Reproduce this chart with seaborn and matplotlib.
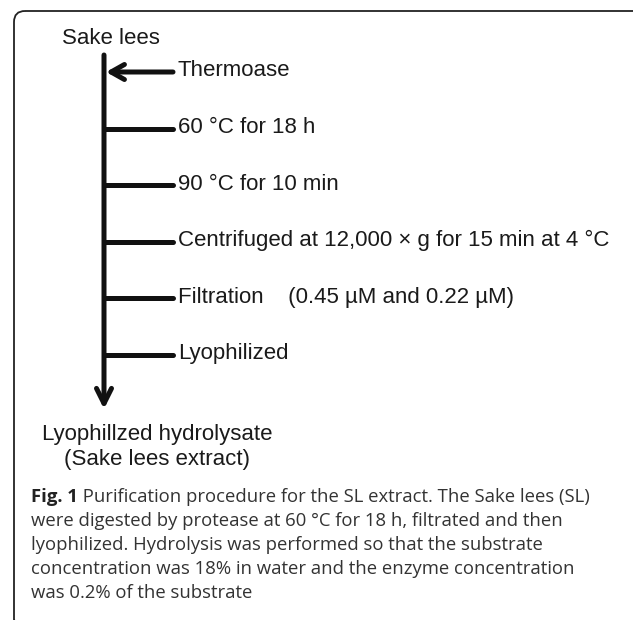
import numpy as np
import pandas as pd
import seaborn as sns
import matplotlib.pyplot as plt
from matplotlib.patches import FancyBboxPatch

# flowchart content
start_label = "Sake lees"
step_labels = ["Thermoase",
               "60 \u00b0C for 18 h",
               "90 \u00b0C for 10 min",
               "Centrifuged at 12,000 \u00d7 g for 15 min at 4 \u00b0C",
               "Filtration    (0.45 \u00b5M and 0.22 \u00b5M)",
               "Lyophilized"]
end_label = "Lyophillzed hydrolysate\n(Sake lees extract)"
caption_bold = "Fig. 1"
caption_lines = [" Purification procedure for the SL extract. The Sake lees (SL)",
                 "were digested by protease at 60 \u00b0C for 18 h, filtrated and then",
                 "lyophilized. Hydrolysis was performed so that the substrate",
                 "concentration was 18% in water and the enzyme concentration",
                 "was 0.2% of the substrate"]

sns.set_theme(style="white")
plt.rcParams['font.family'] = ['Liberation Sans', 'DejaVu Sans']

fig = plt.figure(figsize=(6.33, 6.2), dpi=100)
ax = fig.add_axes([0, 0, 1, 1])

# rounded frame, mostly running off the right and bottom edges
frame = FancyBboxPatch((14, 11), 640, 620, boxstyle="round,pad=0,rounding_size=11",
                       fill=False, lw=1.3, ec='#222222')
ax.add_patch(frame)

trunk_x = 104
branch_end = 173
y0, dy = 72, 56.6
step_y = y0 + dy * np.arange(len(step_labels))

# branches (first one is the arrow, drawn separately)
rows = []
for i, y in enumerate(step_y[1:], start=1):
    rows.append({'step': i, 'x': trunk_x, 'y': y})
    rows.append({'step': i, 'x': branch_end, 'y': y})
branches = pd.DataFrame(rows)
sns.lineplot(data=branches, x='x', y='y', units='step', estimator=None,
             color='#111111', lw=3.6, ax=ax, legend=False)
ax.set_xlim(0, 633)
ax.set_ylim(620, 0)
ax.axis('off')

# main trunk arrow
ax.annotate("", xy=(trunk_x, 409), xytext=(trunk_x, 55),
            arrowprops=dict(arrowstyle='->,head_length=0.9,head_width=0.45',
                            lw=3.6, color='#111111', shrinkA=0, shrinkB=0))
# thermoase input arrow
ax.annotate("", xy=(trunk_x + 2, step_y[0]), xytext=(branch_end, step_y[0]),
            arrowprops=dict(arrowstyle='->,head_length=0.8,head_width=0.45',
                            lw=3.6, color='#111111', shrinkA=0, shrinkB=0))

ax.text(62, 38, start_label, fontsize=16, color='#1a1a1a', va='center', ha='left')
for lab, y in zip(step_labels, step_y):
    ax.text(178, y - 1, lab, fontsize=16, color='#1a1a1a', va='center', ha='left')
ax.text(157, 447, end_label, fontsize=16, color='#1a1a1a', va='center', ha='center',
        linespacing=1.25)

# caption
cap_y = 497 + 24 * np.arange(len(caption_lines))
cap_font = ['Open Sans', 'DejaVu Sans']
t = ax.text(31, cap_y[0], caption_bold, fontsize=13.3, fontweight='bold', family=cap_font,
            color='#222222', va='center', ha='left')
fig.canvas.draw()
bb = t.get_window_extent(fig.canvas.get_renderer())
x_after = ax.transData.inverted().transform((bb.x1, bb.y0))[0]
ax.text(x_after, cap_y[0], caption_lines[0], fontsize=13.3, family=cap_font,
        color='#333333', va='center', ha='left')
for line, y in zip(caption_lines[1:], cap_y[1:]):
    ax.text(31, y, line, fontsize=13.3, family=cap_font, color='#333333',
            va='center', ha='left')

fig.savefig("out.png", dpi=100)
